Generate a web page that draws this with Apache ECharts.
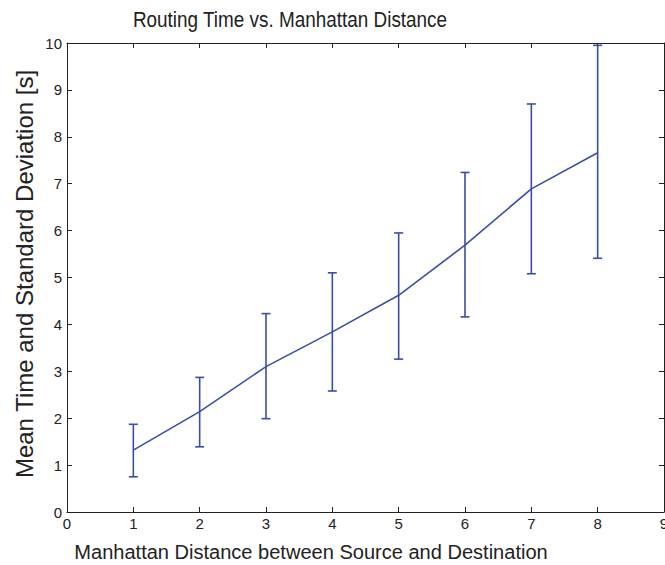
<!DOCTYPE html>
<html><head><meta charset="utf-8">
<script src="https://cdn.jsdelivr.net/npm/echarts@6/dist/echarts.min.js"></script>
<style>html,body{margin:0;padding:0;background:#fff}#c{width:665px;height:565px}</style>
</head><body><div id="c"></div>
<script>
const distances = [1, 2, 3, 4, 5, 6, 7, 8];
const meanTimes = [1.32, 2.14, 3.10, 3.84, 4.62, 5.69, 6.89, 7.66];
const upperBounds = [1.87, 2.87, 4.23, 5.10, 5.95, 7.24, 8.70, 9.95];
const lowerBounds = [0.75, 1.39, 1.99, 2.58, 3.26, 4.16, 5.08, 5.41];
const titleText = 'Routing Time vs. Manhattan Distance';
const xName = 'Manhattan Distance between Source and Destination';
const yName = 'Mean Time and Standard Deviation [s]';

const FONT = "'Liberation Sans',Arial,Helvetica,sans-serif";
const LINE = '#3a4ea3';
const AX = '#222';

const chart = echarts.init(document.getElementById('c'), null, {renderer: 'svg'});

const meanData = distances.map((d, i) => [d, meanTimes[i]]);
const errData = distances.map((d, i) => [d, lowerBounds[i], upperBounds[i]]);

function axisBase(pos, showLabel, isX) {
  return {
    type: 'value', position: pos,
    min: 0, max: isX ? 9 : 10, interval: 1,
    axisLine: {show: true, onZero: false, lineStyle: {color: AX, width: 1}},
    axisTick: {show: true, inside: true, length: 5, lineStyle: {color: AX}},
    axisLabel: {show: showLabel, color: AX, fontSize: 15, fontFamily: FONT, margin: isX ? 4 : 5, hideOverlap: false},
    splitLine: {show: false}
  };
}

chart.setOption({
  backgroundColor: '#fff',
  animation: false,
  grid: {left: 67, right: 1, top: 43, bottom: 53, containLabel: false, outerBoundsMode: 'none'},
  xAxis: [axisBase('bottom', true, true), axisBase('top', false, true)],
  yAxis: [axisBase('left', true, false), axisBase('right', false, false)],
  graphic: [
    {type: 'text', x: 290, y: 19, scaleX: 0.86, style: {text: titleText, font: '22px ' + FONT, fill: AX, textAlign: 'center', textVerticalAlign: 'middle'}},
    {type: 'text', x: 311, y: 551, scaleX: 0.955, style: {text: xName, font: '21px ' + FONT, fill: AX, textAlign: 'center', textVerticalAlign: 'middle'}},
    {type: 'text', x: 24, y: 274, rotation: Math.PI / 2, style: {text: yName, font: '24px ' + FONT, fill: AX, textAlign: 'center', textVerticalAlign: 'middle'}}
  ],
  series: [
    {
      type: 'line', data: meanData, xAxisIndex: 0, yAxisIndex: 0,
      showSymbol: false, lineStyle: {color: LINE, width: 1.6}, z: 3
    },
    {
      type: 'custom', data: errData, xAxisIndex: 0, yAxisIndex: 0,
      encode: {x: 0, y: [1, 2]},
      renderItem: function (params, api) {
        const x = api.value(0);
        const lo = api.coord([x, api.value(1)]);
        const hi = api.coord([x, api.value(2)]);
        const w = 4.5;
        const st = {stroke: LINE, lineWidth: 1.6, fill: null};
        return {
          type: 'group',
          children: [
            {type: 'line', shape: {x1: lo[0], y1: lo[1], x2: hi[0], y2: hi[1]}, style: st},
            {type: 'line', shape: {x1: lo[0] - w, y1: lo[1], x2: lo[0] + w, y2: lo[1]}, style: st},
            {type: 'line', shape: {x1: hi[0] - w, y1: hi[1], x2: hi[0] + w, y2: hi[1]}, style: st}
          ]
        };
      },
      z: 4
    }
  ]
});
</script></body></html>
